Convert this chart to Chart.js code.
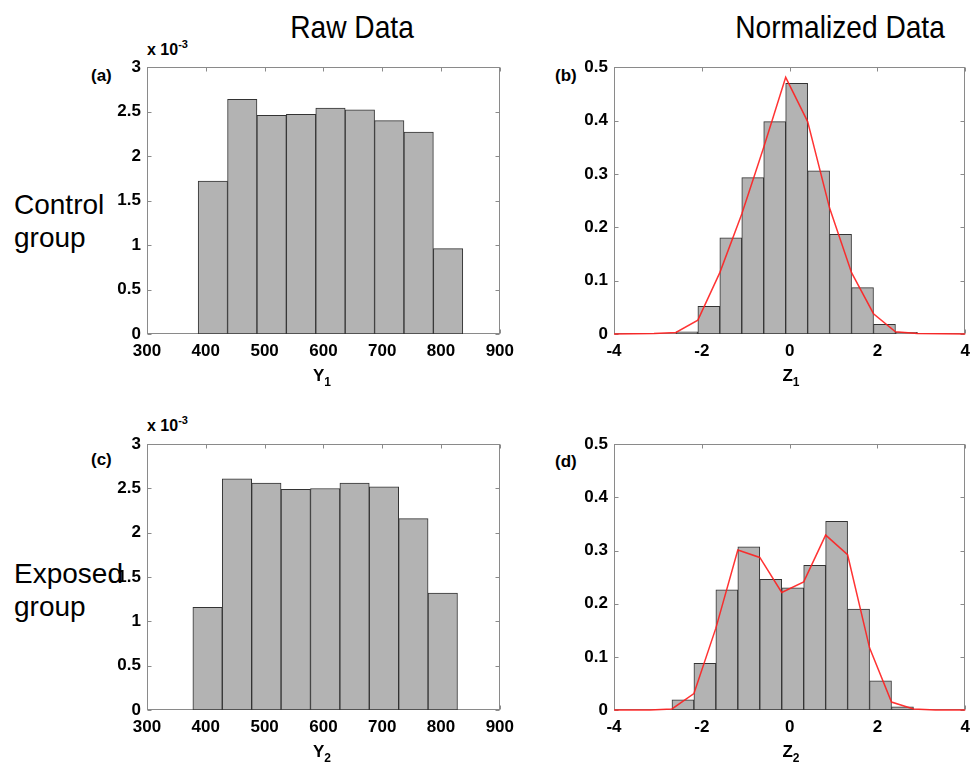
<!DOCTYPE html>
<html>
<head>
<meta charset="utf-8">
<script src="https://cdn.jsdelivr.net/npm/chart.js@4.4.0/dist/chart.umd.min.js"></script>
<style>
html,body{margin:0;padding:0;background:#fff;overflow:hidden;width:977px;height:764px;}
#wrap{position:relative;width:977px;height:764px;font-family:'Liberation Sans',Arial,Helvetica,sans-serif;color:#000;}
canvas{position:absolute;}
.t{position:absolute;white-space:nowrap;line-height:1;}
.title{font-size:32px;transform-origin:center top;}
.group{font-size:28px;line-height:33px;}
.plab{font-size:17px;font-weight:bold;}
.mult{font-size:16px;font-weight:bold;}
.mult sup{font-size:11px;vertical-align:7px;line-height:0;}
.axt{font-size:17px;font-weight:bold;transform:translateX(-50%);}
.axt sub{font-size:12px;vertical-align:-5px;line-height:0;}
</style>
</head>
<body>
<div id="wrap">
  <div class="t title" style="left:352px;top:11px;transform:translateX(-50%) scaleX(0.88);">Raw Data</div>
  <div class="t title" style="left:840px;top:11px;transform:translateX(-50%) scaleX(0.88);">Normalized Data</div>

  <div class="t group" style="left:14px;top:188px;">Control<br>group</div>
  <div class="t group" style="left:14px;top:557px;">Exposed<br>group</div>

  <div class="t plab" style="left:91px;top:67px;">(a)</div>
  <div class="t plab" style="left:555px;top:67px;">(b)</div>
  <div class="t plab" style="left:91px;top:451px;">(c)</div>
  <div class="t plab" style="left:555px;top:453px;">(d)</div>

  <div class="t mult" style="left:147px;top:42px;">x 10<sup>-3</sup></div>
  <div class="t mult" style="left:147px;top:418px;">x 10<sup>-3</sup></div>

  <canvas id="ca" width="434" height="323" style="left:87px;top:51px;"></canvas>
  <canvas id="cb" width="423" height="323" style="left:554px;top:51px;"></canvas>
  <canvas id="cc" width="434" height="322" style="left:87px;top:428px;"></canvas>
  <canvas id="cd" width="423" height="322" style="left:554px;top:428px;"></canvas>

  <div class="t axt" style="left:322px;top:367px;">Y<sub>1</sub></div>
  <div class="t axt" style="left:791px;top:367px;">Z<sub>1</sub></div>
  <div class="t axt" style="left:322px;top:743px;">Y<sub>2</sub></div>
  <div class="t axt" style="left:791px;top:743px;">Z<sub>2</sub></div>
</div>
<script>
// ---------- data ----------
// (a) Control group, raw data histogram (bin centres, density)
const controlRawCenters = [412, 462, 512, 562, 612, 662, 712, 762, 812];
const controlRawDensity = [0.00172, 0.00264, 0.00246, 0.00247, 0.00254, 0.00252, 0.00240, 0.00227, 0.00096];

// (c) Exposed group, raw data histogram
const exposedRawCenters = [403, 453, 503, 553, 603, 653, 703, 753, 803];
const exposedRawDensity = [0.00116, 0.00261, 0.00256, 0.00249, 0.00250, 0.00256, 0.00252, 0.00216, 0.00132];

// (b) Control group, normalized histogram + red density curve
const controlNormCenters = [-2.34, -1.84, -1.34, -0.84, -0.34, 0.16, 0.66, 1.16, 1.66, 2.16, 2.66];
const controlNormDensity = [0.004, 0.052, 0.180, 0.293, 0.398, 0.470, 0.306, 0.187, 0.087, 0.018, 0.003];
const controlCurveX = [-4, -3.09, -2.59, -2.09, -1.59, -1.09, -0.59, -0.09, 0.41, 0.91, 1.41, 1.91, 2.41, 2.91, 4];
const controlCurveY = [0, 0.001, 0.003, 0.026, 0.115, 0.225, 0.350, 0.481, 0.398, 0.236, 0.115, 0.038, 0.004, 0.001, 0];

// (d) Exposed group, normalized histogram + red density curve
const exposedNormCenters = [-2.43, -1.93, -1.43, -0.93, -0.43, 0.07, 0.57, 1.07, 1.57, 2.07, 2.57];
const exposedNormDensity = [0.019, 0.088, 0.226, 0.307, 0.246, 0.230, 0.272, 0.355, 0.190, 0.055, 0.006];
const exposedCurveX = [-4, -3.18, -2.68, -2.18, -1.68, -1.18, -0.68, -0.18, 0.32, 0.82, 1.32, 1.82, 2.32, 2.82, 3.32, 4];
const exposedCurveY = [0, 0, 0.002, 0.031, 0.154, 0.301, 0.287, 0.221, 0.241, 0.329, 0.292, 0.117, 0.015, 0.002, 0, 0];

// axis ranges / tick steps
const rawXRange = [300, 900], rawXStep = 100;
const rawYRange = [0, 0.003], rawYStep = 0.0005;
const normXRange = [-4, 4], normXStep = 2;
const normYRange = [0, 0.5], normYStep = 0.1;

// ---------- drawing ----------
const framePlugin = {
  id: 'frame',
  beforeDatasetsDraw(chart) {
    const {ctx, chartArea: a, scales} = chart;
    const x = scales.x, y = scales.y;
    ctx.save();
    ctx.strokeStyle = '#8a8a8a';
    ctx.lineWidth = 1;
    const l = Math.round(a.left) + 0.5, r = Math.round(a.right) - 0.5;
    const t = Math.round(a.top) + 0.5, b = Math.round(a.bottom) - 0.5;
    ctx.strokeRect(l, t, r - l, b - t);
    const L = 4;
    ctx.beginPath();
    x.ticks.forEach(tk => {
      const px = Math.round(x.getPixelForValue(tk.value)) + 0.5;
      ctx.moveTo(px, b); ctx.lineTo(px, b - L);
      ctx.moveTo(px, t); ctx.lineTo(px, t + L);
    });
    y.ticks.forEach(tk => {
      const py = Math.round(y.getPixelForValue(tk.value)) + 0.5;
      ctx.moveTo(l, py); ctx.lineTo(l + L, py);
      ctx.moveTo(r, py); ctx.lineTo(r - L, py);
    });
    ctx.stroke();
    ctx.restore();
  }
};

const tickFont = {family: "'Liberation Sans', Arial, Helvetica, sans-serif", size: 17, weight: 'bold'};

function makePanel(id, centers, vals, curveX, curveY, xr, xs, yr, ys, yFmt, padRight) {
  const datasets = [{
    type: 'bar',
    data: centers.map((c, i) => ({x: c, y: vals[i]})),
    backgroundColor: '#b3b3b3',
    borderColor: '#333333',
    borderWidth: 1,
    borderSkipped: false,
    categoryPercentage: 1,
    barPercentage: 1,
    order: 2
  }];
  if (curveX) {
    datasets.push({
      type: 'line',
      data: curveX.map((c, i) => ({x: c, y: curveY[i]})),
      borderColor: 'rgba(255,30,30,0.9)',
      borderWidth: 1.5,
      pointRadius: 0,
      tension: 0,
      fill: false,
      clip: 2,
      order: 1
    });
  }
  return new Chart(document.getElementById(id), {
    type: 'bar',
    data: {datasets},
    options: {
      responsive: false,
      animation: false,
      devicePixelRatio: 1,
      layout: {padding: {top: 12, right: padRight, left: 0, bottom: 0}},
      plugins: {legend: {display: false}, tooltip: {enabled: false}, title: {display: false}},
      scales: {
        x: {
          type: 'linear', min: xr[0], max: xr[1], offset: false,
          grid: {display: false, drawTicks: false, offset: false},
          border: {display: false},
          ticks: {stepSize: xs, color: '#000', font: tickFont, padding: 7, maxRotation: 0, autoSkip: false},
          afterFit(s) { s.height = 40; }
        },
        y: {
          type: 'linear', min: yr[0], max: yr[1],
          grid: {display: false, drawTicks: false},
          border: {display: false},
          ticks: {stepSize: ys, color: '#000', font: tickFont, padding: 6, callback: yFmt},
          afterFit(s) { s.width = 60; }
        }
      }
    },
    plugins: [framePlugin]
  });
}

const rawFmt = v => String(Math.round(v * 10000) / 10);
const normFmt = v => String(Math.round(v * 10) / 10);

makePanel('ca', controlRawCenters, controlRawDensity, null, null, rawXRange, rawXStep, rawYRange, rawYStep, rawFmt, 20);
makePanel('cb', controlNormCenters, controlNormDensity, controlCurveX, controlCurveY, normXRange, normXStep, normYRange, normYStep, normFmt, 8);
makePanel('cc', exposedRawCenters, exposedRawDensity, null, null, rawXRange, rawXStep, rawYRange, rawYStep, rawFmt, 20);
makePanel('cd', exposedNormCenters, exposedNormDensity, exposedCurveX, exposedCurveY, normXRange, normXStep, normYRange, normYStep, normFmt, 8);
</script>
</body>
</html>
